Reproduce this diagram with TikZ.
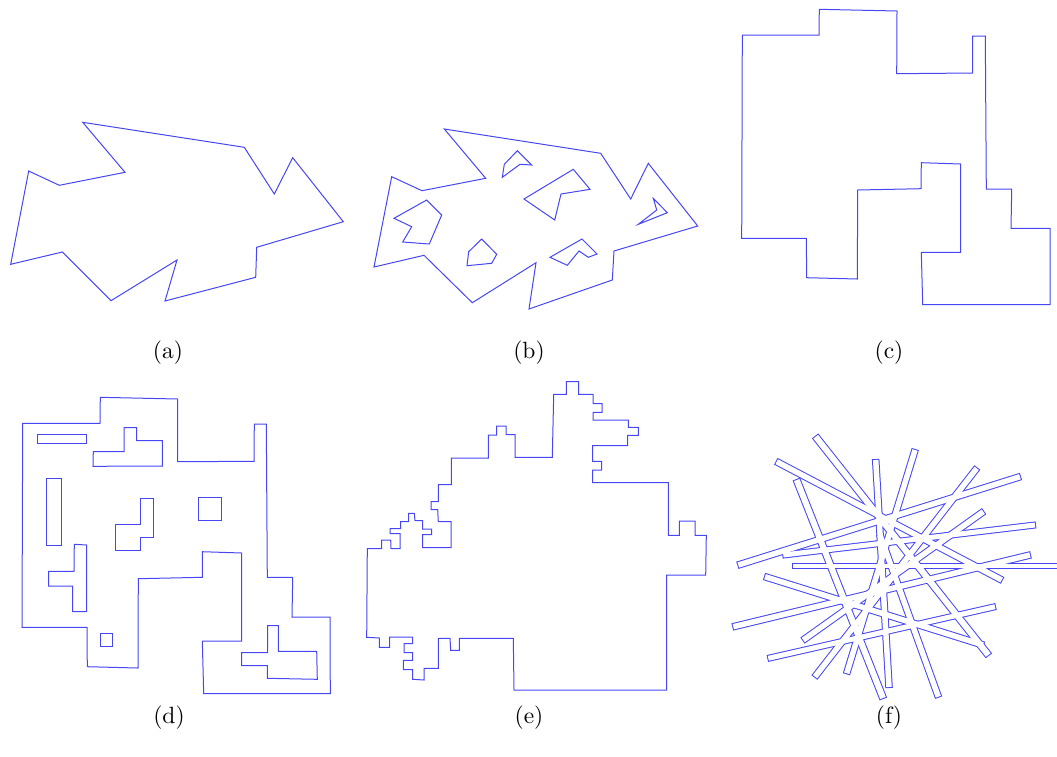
\documentclass[tikz,border=0pt]{standalone}
\usepackage{tikz}
\usepackage{xcolor}
\definecolor{polyblue}{RGB}{70,70,245}

% strips of panel (f): x1/y1/x2/y2/width
\newcommand{\fstrips}{815.7/436.7/988.3/655/6, 776.7/461.7/1001.7/580/5.5,
  796.7/480/883/698/6, 875.7/460/889/687/5.5, 915/450/846.7/673.3/5.5,
  976.7/468.3/815/676.7/5.5, 1020/476.7/738.3/565/5.5, 1035/525/783.3/555/5,
  983.3/511.7/803.3/640/5.5, 1030/555/733.3/626.7/5.5, 995/606.7/768.3/658.3/5,
  793.3/566/1062/566/3.5, 765/576.7/983/645/5.5, 938.3/696.7/880/535/5.5}

\begin{document}
\begin{tikzpicture}[x=1pt, y=-1pt,
  poly/.style={polyblue, line width=1pt, line join=miter},
  caption/.style={font=\normalsize, scale=2.35}]
  \useasboundingbox (0,0) rectangle (1057,756);

  % (a) simple polygon
  \draw[poly] (82.7,122.3) -- (244.3,147.3) -- (274.3,194) -- (292.7,157.7) -- (343.3,221.7)
    -- (256.7,247.3) -- (255.7,277.3) -- (165,301) -- (177,260) -- (111,300.7) -- (62.3,252)
    -- (10.7,264.3) -- (28.7,171) -- (59.3,185.3) -- (125,172.3) -- cycle;

  % (b) polygon with holes
  \draw[poly] (444.3,129) -- (600.7,153.3) -- (630.7,199) -- (648.3,163.3) -- (697.7,226)
    -- (614,251) -- (612.3,280) -- (529,309) -- (536,262.7) -- (472.3,302.7) -- (424,255.3)
    -- (374,267) -- (391.7,176.7) -- (422,190.7) -- (485.7,178.3) -- cycle;
  \draw[poly] (504.3,164.3) -- (517.3,150.7) -- (531.7,165) -- (520,164.3) -- (502.3,177.3) -- cycle;
  \draw[poly] (524,199) -- (573.3,169.3) -- (590,189.3) -- (561,194) -- (554.7,220) -- cycle;
  \draw[poly] (653.3,198.3) -- (656.7,210) -- (638.3,224.3) -- (667.3,212.7) -- cycle;
  \draw[poly] (394,218.3) -- (426.7,200) -- (441.7,215) -- (429.3,244) -- (402.7,242) -- (411.7,226.7) -- cycle;
  \draw[poly] (481.7,239) -- (496.7,254.3) -- (491.7,263.3) -- (467,265.7) -- (468.7,251.7) -- cycle;
  \draw[poly] (550,257.3) -- (582,239) -- (597,254) -- (588.3,257.3) -- (579,251) -- (567.3,265.3) -- cycle;

  % (c) orthogonal polygon
  \draw[poly] (742.3,35) -- (819,35) -- (819.3,9.3) -- (897,11) -- (896.7,73.7) -- (972.7,73)
    -- (972.7,36) -- (985.3,36) -- (986.3,189) -- (1011.7,189) -- (1011,228.3) -- (1050,228.3)
    -- (1050,304.7) -- (922.7,304.7) -- (921.3,252.3) -- (960.7,252.3) -- (960.7,164)
    -- (921.3,162.7) -- (921,188.7) -- (857.7,190) -- (857.3,279) -- (806.7,277.7)
    -- (806.3,238.3) -- (741.7,238.3) -- cycle;

  % (d) orthogonal polygon with holes
  \draw[poly] (22.7,423.3) -- (100,423.3) -- (100.3,397.3) -- (177.7,399) -- (177.7,461.7)
    -- (254,461.3) -- (254.3,424) -- (266.3,424) -- (267.3,577.3) -- (292.7,577.3) -- (292,617)
    -- (330,617) -- (330.3,693.7) -- (203.7,693.7) -- (202.3,641) -- (241.7,641) -- (241.7,553)
    -- (202.3,551.7) -- (202.3,577.3) -- (138.3,578.7) -- (138,668) -- (87.3,666.7)
    -- (87,627.3) -- (22,627.3) -- cycle;
  \draw[poly] (37.3,434.3) rectangle (86,443.3);
  \draw[poly] (93.3,451.7) -- (124,451.7) -- (124,427.7) -- (136.7,427.7) -- (136.7,440.7)
    -- (162.3,440.7) -- (162.3,466) -- (93,466.3) -- cycle;
  \draw[poly] (46.3,478.3) rectangle (61.7,545);
  \draw[poly] (115,524.7) -- (140.3,524.7) -- (140.3,498.7) -- (153.3,498.7) -- (153.3,537)
    -- (140.3,537) -- (140.3,550.3) -- (115,550.3) -- cycle;
  \draw[poly] (198.3,497.3) rectangle (221.3,520.3);
  \draw[poly] (74.3,544.3) -- (86.7,545) -- (86.7,611.7) -- (72.7,611.7) -- (72.7,586)
    -- (48.7,586) -- (48.7,571.3) -- (74,571.3) -- cycle;
  \draw[poly] (100,633.3) rectangle (112.7,646);
  \draw[poly] (267.7,625.7) -- (278.3,625.7) -- (278.3,651.3) -- (316.7,651.3) -- (317.3,679.3)
    -- (267.3,678.3) -- (267.3,665.7) -- (241.7,665.7) -- (241.7,652.7) -- (267.7,652.7) -- cycle;

  % (e) staircase polygon
  \draw[poly] (367.3,548.7) -- (381.7,548.7) -- (381.7,540) -- (390.7,540) -- (391,548.7)
    -- (400,548.7) -- (400,533.7) -- (390,533.7) -- (390,528.7) -- (400.7,528.7) -- (400.7,521.7)
    -- (408.7,521.7) -- (408.7,513.3) -- (414.3,513.3) -- (415,520.7) -- (422.7,520.7)
    -- (422.7,529) -- (431.7,529) -- (431.7,534.7) -- (422.7,534.7) -- (422.7,547.7)
    -- (451,547.7) -- (451,521.7) -- (438.3,521.7) -- (437.7,509.7) -- (431,509.7)
    -- (431,501.7) -- (438.3,501.7) -- (438.3,484.7) -- (451.3,484.7) -- (451.3,458)
    -- (488.3,458) -- (488.3,435) -- (496.7,435) -- (496.7,426) -- (506,426) -- (506,434.7)
    -- (515,434.7) -- (515,457.3) -- (552.3,457.3) -- (553.7,394.3) -- (566.3,394.3)
    -- (566.3,381.7) -- (578.7,381.7) -- (578.7,394.3) -- (593,394.3) -- (593,403.7)
    -- (602,403.7) -- (602,412.3) -- (593,412.3) -- (593,420) -- (628.3,420) -- (628.3,427.3)
    -- (638.3,427.3) -- (638.3,435.3) -- (627.7,435.3) -- (627.7,445.7) -- (592.7,445.7)
    -- (592.7,461.3) -- (601.7,461.3) -- (601.7,470) -- (592.7,470) -- (592.7,482.7)
    -- (668.3,482.7) -- (668.3,535.3) -- (679.3,535.3) -- (679.3,521) -- (695,521)
    -- (695,535.3) -- (706.3,535.3) -- (705.7,575) -- (666.7,575) -- (666.7,690) -- (514,690)
    -- (513.3,638.3) -- (459.3,638.3) -- (459.3,650.3) -- (450.7,650.3) -- (450,638.3)
    -- (438.3,638.3) -- (438.3,668.3) -- (424,668.3) -- (424,680) -- (412.7,679.3)
    -- (412.7,669.7) -- (403.3,669.7) -- (403.3,660.3) -- (412.7,660.3) -- (412.7,652.7)
    -- (404,652.7) -- (404,643.7) -- (412.7,643.7) -- (412.7,637) -- (389.7,637)
    -- (389.7,647.3) -- (379.3,647.3) -- (379.3,638) -- (366.7,637.3) -- cycle;

  % (f) union of crossing strips: blue rims first, white bodies on top
  \foreach \ax/\ay/\bx/\by/\w in \fstrips {
    \pgfmathsetmacro{\rim}{\w+2}
    \draw[polyblue, line width=\rim pt, shorten <=-1pt, shorten >=-1pt] (\ax,\ay) -- (\bx,\by);
  }
  \foreach \ax/\ay/\bx/\by/\w in \fstrips {
    \draw[white, line width=\w pt] (\ax,\ay) -- (\bx,\by);
  }

  % Captions
  \node[caption] (capa) at (168,353) {(a)};
  \node[caption] (capb) at (529,353) {(b)};
  \node[caption] (capc) at (889,353) {(c)};
  \node[caption] (capd) at (169,718) {(d)};
  \node[caption] (cape) at (529,718) {(e)};
  \node[caption] (capf) at (889,718) {(f)};
\end{tikzpicture}
\end{document}
